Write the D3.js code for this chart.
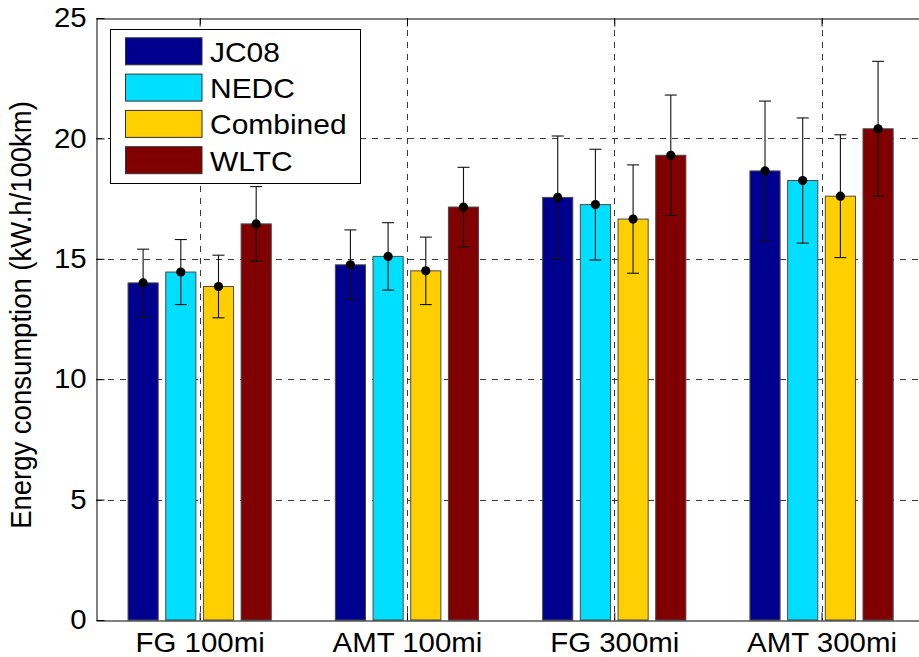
<!DOCTYPE html>
<html>
<head>
<meta charset="utf-8">
<script src="https://cdn.jsdelivr.net/npm/d3@7"></script>
<style>
  body { margin: 0; background: #fff; }
  svg { display: block; }
  text { font-family: "Liberation Sans", Arial, Helvetica, sans-serif; fill: #000; }
</style>
</head>
<body>
<svg id="chart" width="919" height="657"></svg>
<script>
// Drive-cycle energy consumption per vehicle configuration (mean ± spread)
const categories = ["FG 100mi", "AMT 100mi", "FG 300mi", "AMT 300mi"];
const seriesNames = ["JC08", "NEDC", "Combined", "WLTC"];
const seriesColors = ["#00008f", "#00dfff", "#ffcf00", "#800000"];

const jc08Values     = [14.0, 14.75, 17.55, 18.65];
const nedcValues     = [14.45, 15.1, 17.25, 18.25];
const combinedValues = [13.85, 14.5, 16.65, 17.6];
const wltcValues     = [16.45, 17.15, 19.3, 20.4];

const jc08Errors     = [1.4, 1.45, 2.55, 2.9];
const nedcErrors     = [1.35, 1.4, 2.3, 2.6];
const combinedErrors = [1.3, 1.4, 2.25, 2.55];
const wltcErrors     = [1.55, 1.65, 2.5, 2.8];

const yTicks = [0, 5, 10, 15, 20, 25];
const yLabel = "Energy consumption (kW.h/100km)";

const seriesValues = [jc08Values, nedcValues, combinedValues, wltcValues];
const seriesErrors = [jc08Errors, nedcErrors, combinedErrors, wltcErrors];

// Axes box: group positions 1..4 on a [0.5, 4.5] axis, like a grouped bar plot
const plotLeft = 96, plotTop = 18, plotBottom = 620, plotRight = 919, unitPx = 207.3;
const x = d3.scaleLinear().domain([0.5, 4.5]).range([plotLeft, plotLeft + 4 * unitPx]);
const y = d3.scaleLinear().domain([0, 25]).range([plotBottom, plotTop]);

// Grouped bar geometry (in x units)
const nSeries = seriesNames.length;
const groupWidth = Math.min(0.8, nSeries / (nSeries + 1.5));
const slot = groupWidth / nSeries;
const barWidthUnits = slot * 0.8;
const offset = i => -groupWidth / 2 + slot * (i + 0.5);

const stretch = 1.09;   // slightly wide glyphs
const fontSize = 27;

const svg = d3.select("#chart");

// Grid lines (behind the bars)
const grid = svg.append("g").attr("stroke", "#3a3a3a").attr("stroke-width", 1)
  .attr("stroke-dasharray", "6,6");
grid.selectAll("line.h").data(yTicks.filter(v => v > 0 && v < 25)).join("line")
  .attr("class", "h")
  .attr("x1", plotLeft).attr("x2", plotRight)
  .attr("y1", d => Math.round(y(d)) + 0.5).attr("y2", d => Math.round(y(d)) + 0.5);
grid.selectAll("line.v").data(d3.range(1, categories.length + 1)).join("line")
  .attr("class", "v")
  .attr("x1", d => Math.round(x(d)) + 0.5).attr("x2", d => Math.round(x(d)) + 0.5)
  .attr("y1", plotTop).attr("y2", plotBottom);

// Flattened records for bars
const records = [];
seriesNames.forEach((name, s) => {
  categories.forEach((cat, c) => {
    records.push({ s, c, value: seriesValues[s][c], err: seriesErrors[s][c] });
  });
});

const pos = d => d.c + 1 + offset(d.s);
const cx = d => x(pos(d));

svg.append("g").selectAll("rect").data(records).join("rect")
  .attr("x", d => x(pos(d) - barWidthUnits / 2))
  .attr("width", d => x(pos(d) + barWidthUnits / 2) - x(pos(d) - barWidthUnits / 2))
  .attr("y", d => y(d.value))
  .attr("height", d => y(0) - y(d.value))
  .attr("fill", d => seriesColors[d.s])
  .attr("stroke", "#4a4a4a")
  .attr("stroke-width", 1);

// Error bars with caps and mean markers
const capHalf = 6;
const eb = svg.append("g").attr("stroke", "#111").attr("stroke-width", 1.1);
eb.selectAll("line.stem").data(records).join("line")
  .attr("class", "stem")
  .attr("x1", cx).attr("x2", cx)
  .attr("y1", d => y(d.value + d.err)).attr("y2", d => y(d.value - d.err));
eb.selectAll("line.capTop").data(records).join("line")
  .attr("class", "capTop")
  .attr("x1", d => cx(d) - capHalf).attr("x2", d => cx(d) + capHalf)
  .attr("y1", d => y(d.value + d.err)).attr("y2", d => y(d.value + d.err));
eb.selectAll("line.capBot").data(records).join("line")
  .attr("class", "capBot")
  .attr("x1", d => cx(d) - capHalf).attr("x2", d => cx(d) + capHalf)
  .attr("y1", d => y(d.value - d.err)).attr("y2", d => y(d.value - d.err));
svg.append("g").selectAll("circle").data(records).join("circle")
  .attr("cx", cx).attr("cy", d => y(d.value)).attr("r", 4.6).attr("fill", "#000");

// Axes
const yAxis = d3.axisLeft(y).tickValues(yTicks).tickFormat(d3.format("d"))
  .tickSize(-8).tickSizeOuter(0).tickPadding(9);
const yG = svg.append("g").attr("transform", `translate(${plotLeft + 0.5},0)`).call(yAxis);
yG.select(".domain").attr("stroke", "#000");
yG.selectAll(".tick line").attr("stroke", "#000");
yG.selectAll(".tick text").attr("font-size", fontSize).attr("font-family", null)
  .attr("transform", `scale(${stretch},1)`);

const xAxis = d3.axisBottom(x).tickValues(d3.range(1, categories.length + 1))
  .tickFormat(d => categories[d - 1]).tickSize(-8).tickSizeOuter(0).tickPadding(12);
const xG = svg.append("g").attr("transform", `translate(0,${plotBottom + 0.5})`).call(xAxis);
xG.select(".domain").attr("stroke", "#000");
xG.selectAll(".tick line").attr("stroke", "#000");
xG.selectAll(".tick text").attr("font-size", fontSize).attr("font-family", null)
  .attr("transform", `scale(${stretch},1)`);

// Top edge of the axes box with inward ticks
const topAxis = d3.axisTop(x).tickValues(d3.range(1, categories.length + 1))
  .tickSize(-8).tickSizeOuter(0).tickFormat("");
const tG = svg.append("g").attr("transform", `translate(0,${plotTop + 0.5})`).call(topAxis);
tG.select(".domain").attr("stroke", "#000");
tG.selectAll(".tick line").attr("stroke", "#000");

// Y axis title
svg.append("text")
  .attr("transform", `translate(31,${(plotTop + plotBottom) / 2 - 4}) scale(${stretch},1) rotate(-90)`)
  .attr("text-anchor", "middle")
  .attr("font-size", 27.5)
  .text(yLabel);

// Legend
const lg = svg.append("g");
lg.append("rect").attr("x", 110.5).attr("y", 29.5).attr("width", 250).attr("height", 154)
  .attr("fill", "#fff").attr("stroke", "#000").attr("stroke-width", 1);
const rowY = i => 51.3 + i * 36.3;
const items = lg.selectAll("g.item").data(seriesNames).join("g").attr("class", "item");
items.append("rect")
  .attr("x", 125.5).attr("y", (d, i) => rowY(i) - 13.5)
  .attr("width", 76.5).attr("height", 27)
  .attr("fill", (d, i) => seriesColors[i]).attr("stroke", "#333").attr("stroke-width", 1);
items.append("text")
  .attr("transform", (d, i) => `translate(210,${rowY(i) + 10.5}) scale(${stretch},1)`)
  .attr("font-size", 27.5)
  .text(d => d);
</script>
</body>
</html>
